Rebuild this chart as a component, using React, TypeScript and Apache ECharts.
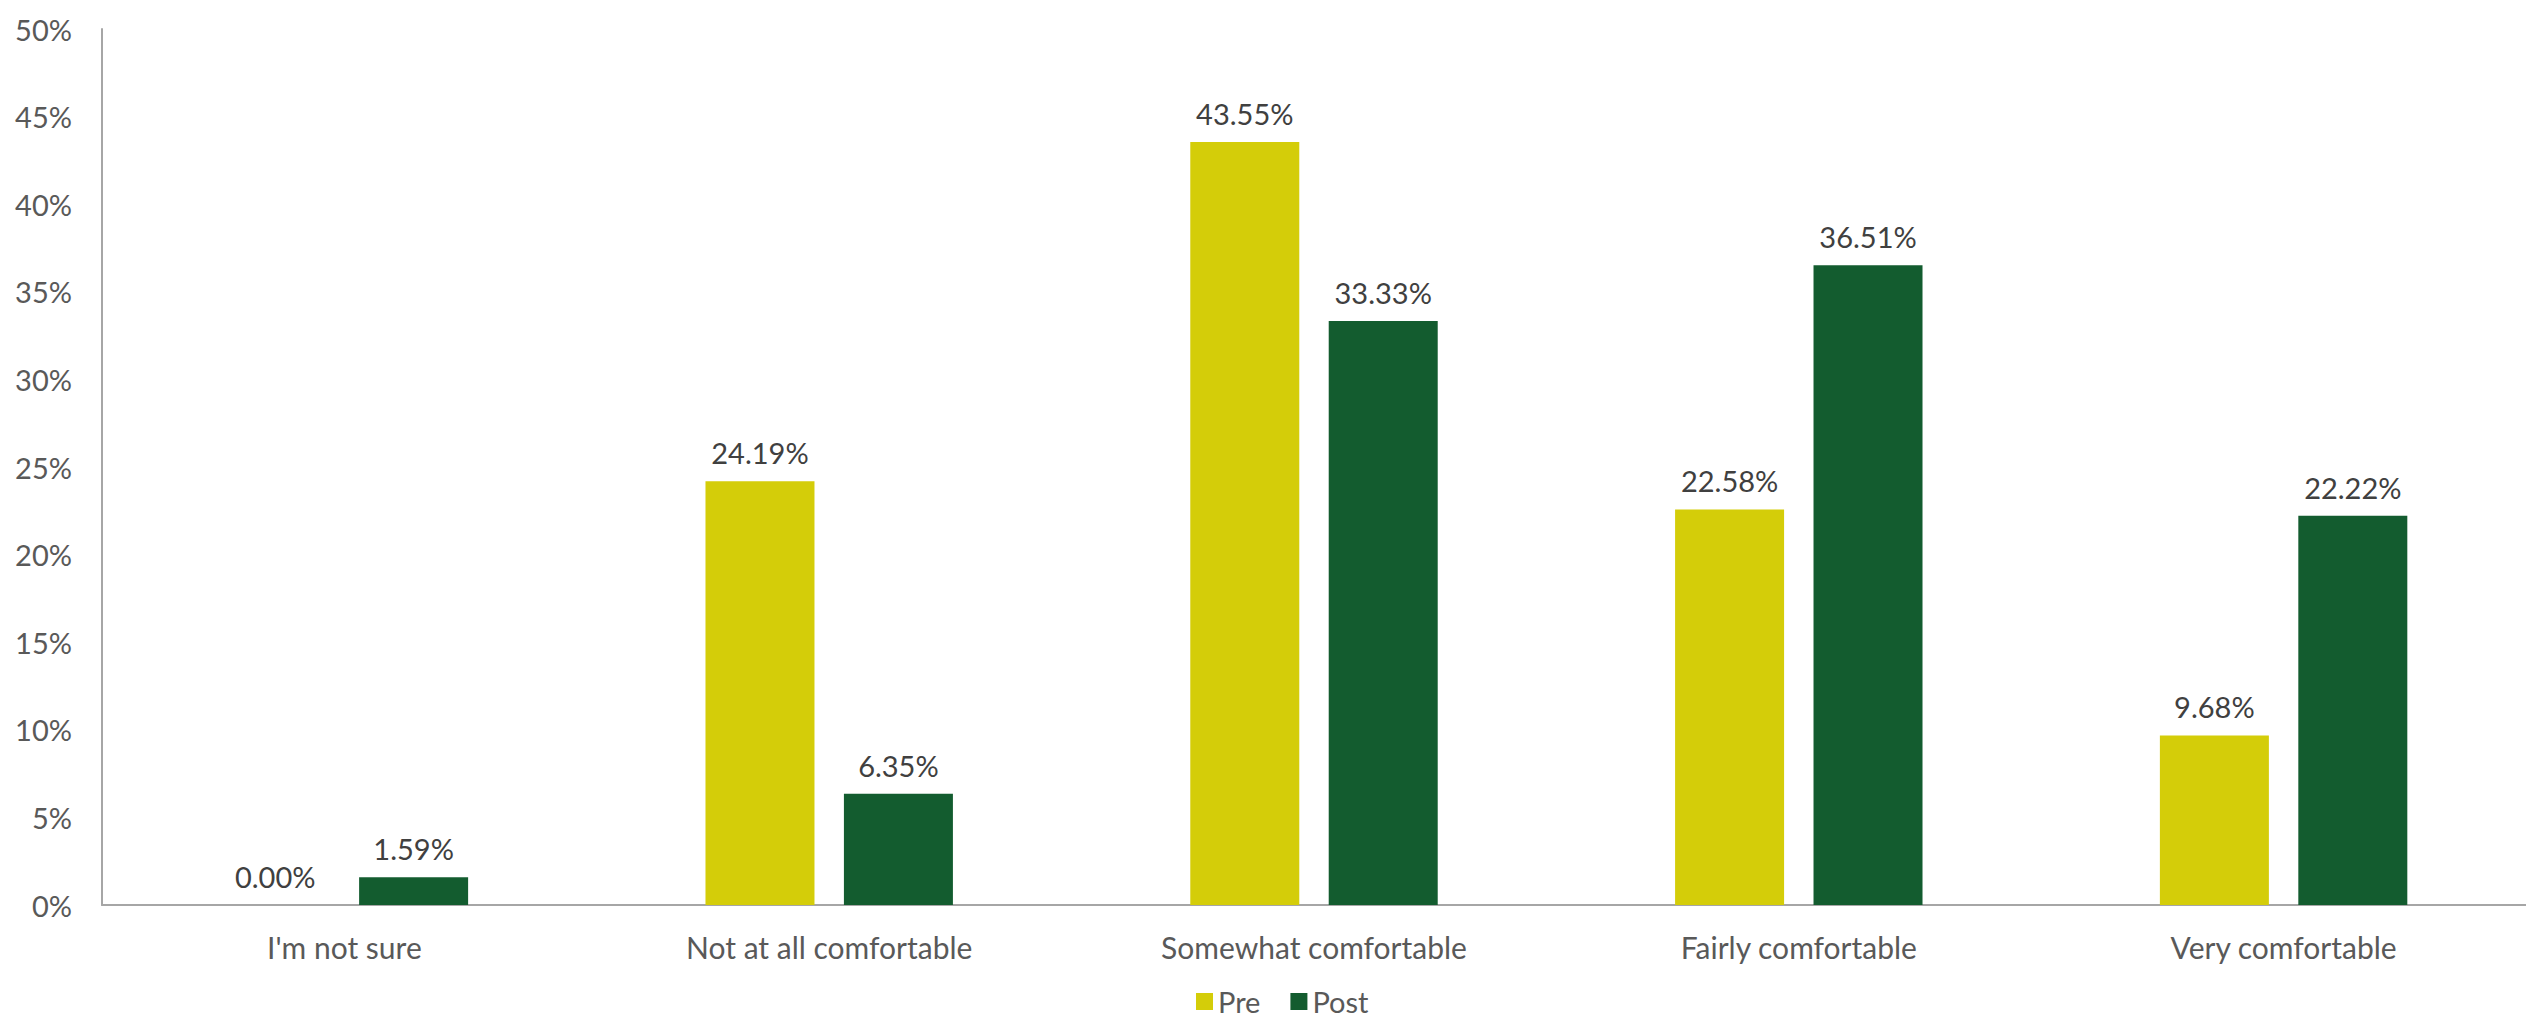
import React, { useEffect, useRef } from "react";
import * as echarts from "echarts";

// Comfort level survey, before and after
const categories = [
  "I'm not sure",
  "Not at all comfortable",
  "Somewhat comfortable",
  "Fairly comfortable",
  "Very comfortable",
];
const preValues = [0.0, 24.19, 43.55, 22.58, 9.68];
const postValues = [1.59, 6.35, 33.33, 36.51, 22.22];
const seriesNames = ["Pre", "Post"];

const FONT = "Lato";
const PRE_COLOR = "#D4CD09";
const POST_COLOR = "#135C2F";

export default function App() {
  const ref = useRef<HTMLDivElement>(null);

  useEffect(() => {
    if (!ref.current) return;
    const chart = echarts.init(ref.current, null, { renderer: "svg" });

    const label = {
      show: true,
      position: "top" as const,
      distance: 14,
      color: "#404040",
      fontFamily: FONT,
      fontSize: 29,
      formatter: (p: any) => `${Number(p.value).toFixed(2)}%`,
    };

    chart.setOption({
      animation: false,
      backgroundColor: "#ffffff",
      grid: { left: 102, right: -8, top: 29, bottom: 118 },
      legend: {
        data: seriesNames,
        left: 1196,
        top: 987,
        padding: 0,
        icon: "rect",
        itemWidth: 17,
        itemHeight: 17,
        itemGap: 30,
        textStyle: {
          color: "#595959",
          fontFamily: FONT,
          fontSize: 29,
          lineHeight: 29,
        },
      },
      xAxis: {
        type: "category",
        data: categories,
        axisLine: { show: true, lineStyle: { color: "#A6A6A6", width: 2 } },
        axisTick: { show: false },
        axisLabel: {
          color: "#595959",
          fontFamily: FONT,
          fontSize: 30,
          margin: 27,
        },
      },
      yAxis: {
        type: "value",
        min: 0,
        max: 50,
        interval: 5,
        axisLine: { show: true, lineStyle: { color: "#A6A6A6", width: 2 } },
        axisTick: { show: false },
        splitLine: { show: false },
        axisLabel: {
          color: "#595959",
          fontFamily: FONT,
          fontSize: 29,
          margin: 30,
          formatter: (v: number) => `${v}%`,
        },
      },
      series: [
        {
          name: seriesNames[0],
          type: "bar",
          data: preValues,
          barWidth: 109,
          barGap: "27%",
          itemStyle: { color: PRE_COLOR },
          label,
        },
        {
          name: seriesNames[1],
          type: "bar",
          data: postValues,
          barWidth: 109,
          barGap: "27%",
          itemStyle: { color: POST_COLOR },
          label,
        },
      ],
    });

    return () => chart.dispose();
  }, []);

  return (
    <div
      ref={ref}
      style={{ width: 2526, height: 1023, position: "absolute", left: 0, top: 0 }}
    />
  );
}
